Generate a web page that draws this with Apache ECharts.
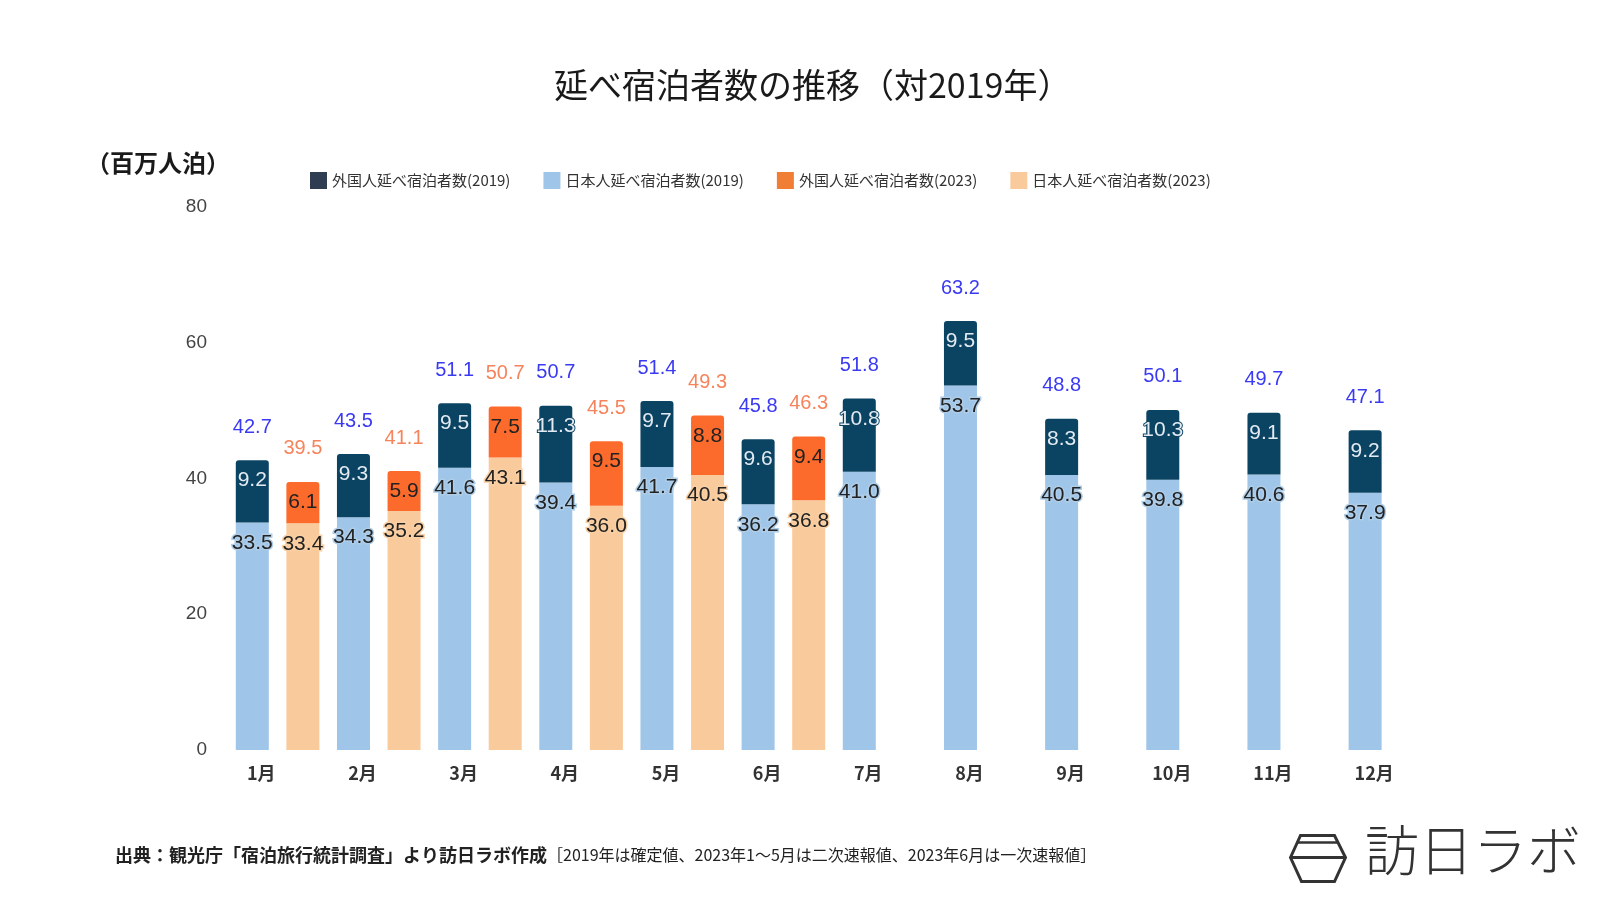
<!DOCTYPE html>
<html>
<head>
<meta charset="utf-8">
<script src="https://cdn.jsdelivr.net/npm/echarts@6/dist/echarts.min.js"></script>
<style>
html,body{margin:0;padding:0;background:#fff;}
#chart{width:1600px;height:900px;}
</style>
</head>
<body>
<div id="chart"></div>
<script>
// ---- data ----
const months = ['1月','2月','3月','4月','5月','6月','7月','8月','9月','10月','11月','12月'];
const yTicks = [0, 20, 40, 60, 80];
const jp2019 = [33.5, 34.3, 41.6, 39.4, 41.7, 36.2, 41.0, 53.7, 40.5, 39.8, 40.6, 37.9];
const fr2019 = [9.2, 9.3, 9.5, 11.3, 9.7, 9.6, 10.8, 9.5, 8.3, 10.3, 9.1, 9.2];
const total2019 = [42.7, 43.5, 51.1, 50.7, 51.4, 45.8, 51.8, 63.2, 48.8, 50.1, 49.7, 47.1];
const jp2023 = [33.4, 35.2, 43.1, 36.0, 40.5, 36.8];
const fr2023 = [6.1, 5.9, 7.5, 9.5, 8.8, 9.4];
const total2023 = [39.5, 41.1, 50.7, 45.5, 49.3, 46.3];
const seriesNames = ['外国人延べ宿泊者数(2019)', '日本人延べ宿泊者数(2019)', '外国人延べ宿泊者数(2023)', '日本人延べ宿泊者数(2023)'];

// ---- slots: each month has a 2019 slot and a 2023 slot ----
const slots = [];
months.forEach(m => { slots.push(m); slots.push(m + '(2023)'); });
function toSlots(arr, year) {
  const out = [];
  months.forEach((m, i) => {
    const v = arr[i];
    const has = v !== undefined && v !== null;
    if (year === 2019) { out.push(has ? v : '-'); out.push('-'); }
    else { out.push('-'); out.push(has ? v : '-'); }
  });
  return out;
}
function zeroSlots(arr, year) {
  return toSlots(arr, year).map(v => v === '-' ? '-' : 0);
}
function totalLabelFor(arr) {
  return p => arr[Math.floor(p.dataIndex / 2)].toFixed(1);
}

const C_NAVY = '#0b4463', C_LBLUE = '#9fc5e8', C_ORANGE = '#fd6b2c', C_PEACH = '#f9cb9c';
const numFont = 'Liberation Sans, Arial, sans-serif';
const jpFont = '"Noto Sans CJK JP", sans-serif';

const chart = echarts.init(document.getElementById('chart'));
const lblBase = { show: true, position: 'insideTop', distance: 10, fontSize: 21, fontFamily: numFont,
  formatter: p => Number(p.value).toFixed(1) };

const option = {
  backgroundColor: '#ffffff',
  animation: false,
  title: {
    text: '延べ宿泊者数の推移（対2019年）',
    left: 549, top: 63,
    textStyle: { fontSize: 34, fontWeight: 'normal', color: '#1a1a1a', fontFamily: jpFont }
  },
  legend: {
    top: 167, left: 305,
    itemWidth: 17, itemHeight: 17, itemGap: 33,
    icon: 'rect',
    textStyle: { fontSize: 15, color: '#333', fontFamily: jpFont },
    data: [
      { name: seriesNames[0], itemStyle: { color: '#2e3d52' } },
      { name: seriesNames[1], itemStyle: { color: C_LBLUE } },
      { name: seriesNames[2], itemStyle: { color: '#f17e35' } },
      { name: seriesNames[3], itemStyle: { color: C_PEACH } }
    ]
  },
  grid: { left: 227, right: 159, top: 207, bottom: 150, containLabel: false },
  xAxis: {
    type: 'category',
    data: slots,
    axisLine: { show: false },
    axisTick: { show: false },
    axisLabel: {
      interval: i => i % 2 === 0,
      formatter: v => v.indexOf('(2023)') >= 0 ? '' : v,
      fontSize: 18, color: '#333', fontFamily: jpFont, fontWeight: 'bold',
      margin: 14, padding: [0, 0, 0, 18]
    }
  },
  yAxis: {
    type: 'value', min: yTicks[0], max: yTicks[yTicks.length - 1], interval: 20,
    splitLine: { show: false },
    axisLine: { show: false }, axisTick: { show: false },
    axisLabel: { fontSize: 19, color: '#444', fontFamily: numFont, margin: 20 }
  },
  series: [
    {
      name: seriesNames[1], type: 'bar', stack: 'a', barWidth: 33,
      data: toSlots(jp2019, 2019),
      itemStyle: { color: C_LBLUE },
      label: Object.assign({}, lblBase, { color: '#222', textBorderColor: '#aecde9', textBorderWidth: 3 })
    },
    {
      name: seriesNames[0], type: 'bar', stack: 'a', barWidth: 33,
      data: toSlots(fr2019, 2019),
      itemStyle: { color: C_NAVY, borderRadius: [3, 3, 0, 0] },
      label: Object.assign({}, lblBase, { color: '#e3eaf1', textBorderColor: '#0b4463', textBorderWidth: 2 })
    },
    {
      name: seriesNames[3], type: 'bar', stack: 'a', barWidth: 33,
      data: toSlots(jp2023, 2023),
      itemStyle: { color: C_PEACH },
      label: Object.assign({}, lblBase, { color: '#222', textBorderColor: '#f9cfa3', textBorderWidth: 3 })
    },
    {
      name: seriesNames[2], type: 'bar', stack: 'a', barWidth: 33,
      data: toSlots(fr2023, 2023),
      itemStyle: { color: C_ORANGE, borderRadius: [3, 3, 0, 0] },
      label: Object.assign({}, lblBase, { color: '#222' })
    },
    {
      name: 'total2019', type: 'bar', stack: 'a', barWidth: 33,
      data: zeroSlots(total2019, 2019),
      itemStyle: { color: 'rgba(0,0,0,0)' },
      label: { show: true, position: 'top', distance: 23, fontSize: 20, fontFamily: numFont,
        color: '#3a3af2', formatter: totalLabelFor(total2019) }
    },
    {
      name: 'total2023', type: 'bar', stack: 'a', barWidth: 33,
      data: zeroSlots(total2023, 2023),
      itemStyle: { color: 'rgba(0,0,0,0)' },
      label: { show: true, position: 'top', distance: 23, fontSize: 20, fontFamily: numFont,
        color: '#f5845c', formatter: totalLabelFor(total2023) }
    }
  ],
  graphic: [
    {
      type: 'text', left: 86, top: 151,
      style: { text: '（百万人泊）', fontSize: 24, fontWeight: 'bold', fill: '#1a1a1a', fontFamily: jpFont }
    },
    {
      type: 'text', left: 115, top: 846,
      style: {
        text: '{a|出典：観光庁「宿泊旅行統計調査」より訪日ラボ作成}{b|［2019年は確定値、2023年1～5月は二次速報値、2023年6月は一次速報値］}',
        rich: {
          a: { fontSize: 18, fontWeight: 'bold', fill: '#222', fontFamily: jpFont },
          b: { fontSize: 16, fontWeight: 'normal', fill: '#222', fontFamily: jpFont }
        }
      }
    },
    {
      type: 'group', left: 1288, top: 833,
      children: [
        { type: 'polygon', shape: { points: [[0, 24], [10, 2], [44, 2], [55, 24], [44, 48], [11, 48]] },
          style: { fill: 'none', stroke: '#333', lineWidth: 3 } },
        { type: 'line', shape: { x1: 0, y1: 24, x2: 55, y2: 24 }, style: { stroke: '#333', lineWidth: 3 } },
        { type: 'line', shape: { x1: 7, y1: 9, x2: 48, y2: 9 }, style: { stroke: '#333', lineWidth: 2.5 } }
      ]
    },
    {
      type: 'text', left: 1365, top: 823,
      style: { text: '訪日ラボ', fontSize: 54, fontWeight: 300, fill: '#333', fontFamily: jpFont }
    }
  ]
};
chart.setOption(option);
</script>
</body>
</html>
